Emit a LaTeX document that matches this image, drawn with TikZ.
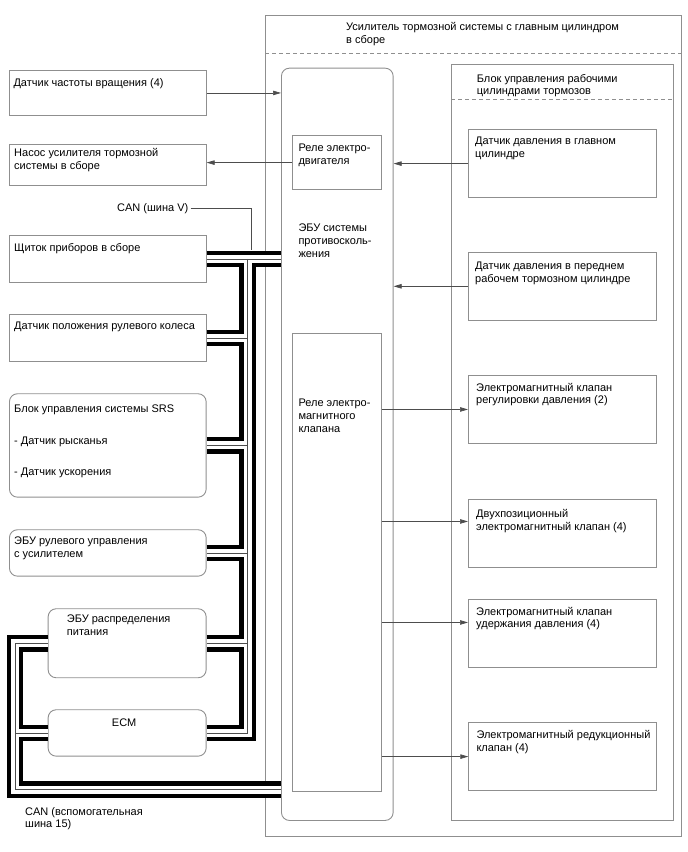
\documentclass[tikz,border=0pt]{standalone}
\usepackage{fontspec}
\setmainfont{Liberation Sans}
\usetikzlibrary{arrows.meta,positioning}
\definecolor{framegray}{HTML}{8F8F8F}
\definecolor{wiregray}{HTML}{4D4D4D}

\begin{document}
\begin{tikzpicture}[x=1pt,y=-1pt,>={Triangle[length=8pt,width=4.5pt]},
  font=\fontsize{11}{12.7}\selectfont,
  unit/.style={draw=framegray,line width=.9pt,anchor=north west,inner sep=0pt},
  soft/.style={unit,rounded corners=8pt},
  lbl/.style={anchor=north west,align=left,inner xsep=5pt,inner ysep=#1},
  txt/.style={anchor=north west,align=left,inner sep=0pt},
  wire/.style={draw=wiregray,line width=.7pt},
  cut/.style={draw=framegray,line width=.9pt,dash pattern=on 4pt off 3pt}]
\useasboundingbox (0,0) rectangle (688,852);

% brake booster assembly
\node[unit,minimum width=415.7,minimum height=821] (assy) at (265,15) {};
\node[txt] (assytitle) at (346,22.5) {Усилитель тормозной системы с главным цилиндром\\в сборе};
\draw[cut] ([yshift=-38.3pt]assy.north west) -- ([yshift=-38.3pt]assy.north east);

\node[soft,minimum width=111.7,minimum height=752.3] (ecu) at (281,67.7) {};
\node[txt] (ecutext) at (298.3,224) {ЭБУ системы\\противосколь-\\жения};
\node[unit,minimum width=89,minimum height=54.3,
  label={[lbl=9pt,inner xsep=6pt]north west:{Реле электро-\\двигателя}}] (mrelay) at (292.3,135) {};
\node[unit,minimum width=89,minimum height=457.4] (srelay) at (292.3,333.3) {};
\node[txt] (srelaytext) at (298.3,399) {Реле электро-\\магнитного\\клапана};

\node[unit,minimum width=222.3,minimum height=755.7] (bcu) at (451,64.3) {};
\draw[cut] ([yshift=-34.7pt]bcu.north west) -- ([yshift=-34.7pt]bcu.north east);
\node[txt] (bcutitle) at (476.7,74) {Блок управления рабочими\\цилиндрами тормозов};

\node[unit,minimum width=188,minimum height=68.3,
  label={[lbl=7.7pt,inner xsep=7.3pt]north west:{Датчик давления в главном\\цилиндре}}] (mcs) at (467.7,129) {};
\node[unit,minimum width=188,minimum height=68.3,
  label={[lbl=10pt,inner xsep=7.3pt]north west:{Датчик давления в переднем\\рабочем тормозном цилиндре}}] (fcs) at (467.7,251.7) {};
\node[unit,minimum width=188,minimum height=68,
  label={[lbl=7.7pt,inner xsep=8pt]north west:{Электромагнитный клапан\\регулировки давления (2)}}] (v1) at (468,375) {};
\node[unit,minimum width=188,minimum height=68,
  label={[lbl=10pt,inner xsep=8pt]north west:{Двухпозиционный\\электромагнитный клапан (4)}}] (v2) at (468,499) {};
\node[unit,minimum width=188,minimum height=68,
  label={[lbl=7.7pt,inner xsep=8pt]north west:{Электромагнитный клапан\\удержания давления (4)}}] (v3) at (468,599) {};
\node[unit,minimum width=188,minimum height=67.7,
  label={[lbl=7.7pt,inner xsep=8pt]north west:{Электромагнитный редукционный\\клапан (4)}}] (v4) at (468.3,722.3) {};

% units outside
\node[unit,minimum width=196.7,minimum height=45,
  label={[lbl=8.3pt,inner xsep=4.3pt]north west:{Датчик частоты вращения (4)}}] (speed) at (9,70) {};
\node[unit,minimum width=196.7,minimum height=40.7,
  label={[lbl=4pt]north west:{Насос усилителя тормозной\\системы в сборе}}] (pump) at (9,144.3) {};
\node[unit,minimum width=196.7,minimum height=46.7,
  label={[lbl=8.3pt]north west:{Щиток приборов в сборе}}] (cluster) at (9,235) {};
\node[unit,minimum width=196.7,minimum height=46.4,
  label={[lbl=7.4pt]north west:{Датчик положения рулевого колеса}}] (steer) at (9,314.3) {};
\node[soft,minimum width=196.7,minimum height=103.4,
  label={[lbl=11.7pt]north west:{Блок управления системы SRS\\[18.5pt]- Датчик рысканья\\[18.5pt]- Датчик ускорения}}] (srs) at (9,393.3) {};
\node[soft,minimum width=196.7,minimum height=46.4,
  label={[lbl=7.4pt]north west:{ЭБУ рулевого управления\\с усилителем}}] (eps) at (9,529.3) {};
\node[soft,minimum width=158,minimum height=69,
  label={[lbl=6.7pt,inner xsep=19pt]north west:{ЭБУ распределения\\питания}}] (pdu) at (47.7,608.3) {};
\node[soft,minimum width=158,minimum height=46.4,
  label={[lbl=9pt,anchor=north,xshift=-3pt]north:ECM}] (ecm) at (47.7,709.3) {};

% CAN buses
\coordinate (trunk) at (247.5,0);
\coordinate (loop) at (15,789.5);
\coordinate (vtap) at (251,250);
\foreach \lw/\lc in {16.5pt/black,8pt/white,.6pt/wiregray}
  \draw[line width=\lw,draw=\lc]
    (cluster.east) -- (cluster.east -| ecu.west)
    (cluster.east -| trunk) |- (ecm.east)
    (steer.east) -- (steer.east -| trunk)
    (srs.east) -- (srs.east -| trunk)
    (eps.east) -- (eps.east -| trunk)
    (pdu.east) -- (pdu.east -| trunk)
    (pdu.west) -| (loop) -- (loop -| ecu.west)
    (ecm.west) -- (ecm.west -| loop);
\node[txt,inner xsep=2pt] (canv) at (115,203.5) {CAN (шина V)};
\draw[wire] (canv.east) -| (vtap);
\node[txt] (canaux) at (25,807) {CAN (вспомогательная\\шина 15)};

% signals
\draw[wire,->] (speed.east) -- (speed.east -| ecu.west);
\draw[wire,->] (mrelay.west) -- (mrelay.west -| pump.east);
\draw[wire,->] (mcs.west) -- (mcs.west -| ecu.east);
\draw[wire,->] (fcs.west) -- (fcs.west -| ecu.east);
\foreach \v/\dy in {v1/0,v2/12,v3/11,v4/0}
  \draw[wire,->] ([yshift=\dy pt]srelay.east |- \v.west) -- ([yshift=\dy pt]\v.west);
\end{tikzpicture}
\end{document}
